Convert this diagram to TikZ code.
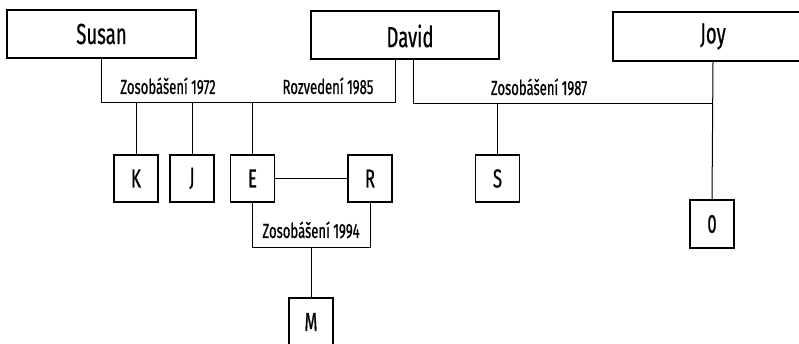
\documentclass[tikz,border=0pt]{standalone}
\usepackage{fontspec}
\setmainfont[FakeStretch=0.64,FakeBold=0.6]{Fira Sans}
\begin{document}
\begin{tikzpicture}[x=1pt,y=-1pt,
  lw/.style={line width=1.2pt},
  bigbox/.style={draw,lw,inner sep=0pt,minimum height=48pt,font=\fontsize{29}{29}\selectfont},
  namelbl/.style={inner sep=0pt,font=\fontsize{29}{29}\selectfont},
  kidbox/.style={draw,lw,inner sep=0pt,minimum width=44pt,minimum height=47pt,font=\fontsize{26}{26}\selectfont},
  lbl/.style={inner sep=0pt,font=\fontsize{20.5}{21}\selectfont},
  conn/.style={line width=1pt}]
\clip (0,0) rectangle (799,344);
\useasboundingbox (0,0) rectangle (799,344);
% parents
\node[bigbox,minimum width=189pt] (Susan) at (101.5,34) {Susan};
\node[bigbox,minimum width=188pt] (David) at (405,35) {};
\node[namelbl] (Davidtext) at (410,36) {David};
\node[bigbox,minimum width=200pt,minimum height=49pt] (Joy) at (713,36.5) {Joy};
% children
\node[kidbox] (K) at (136,178.5) {K};
\node[kidbox] (J) at (192,178.5) {J};
\node[kidbox] (E) at (252.5,178.5) {E};
\node[kidbox] (R) at (370,178.5) {R};
\node[kidbox] (S) at (497.5,178.5) {S};
\node[kidbox,minimum height=48pt] (O) at (712,224) {0};
\node[kidbox,minimum height=48pt] (M) at (311,322) {M};
% helper coordinates
\coordinate (sdy) at (0,103);
\coordinate (djy) at (0,104);
\coordinate (ery) at (0,248);
\coordinate (dL) at (395,59);
\coordinate (dR) at (413,59);
% Susan - David
\draw[conn] (Susan.south) -- (Susan.south |- sdy) -- (dL |- sdy) -- (dL);
\draw[conn] (K.north) -- (K.north |- sdy);
\draw[conn] (J.north) -- (J.north |- sdy);
\draw[conn] (E.north) -- (E.north |- sdy);
% David - Joy
\draw[conn] (dR) -- (dR |- djy) -- (Joy.south |- djy);
\draw[conn] (Joy.south) -- (O.north);
\draw[conn] (S.north) -- (S.north |- djy);
% E - R
\draw[conn] (E.east) -- (R.west);
\draw[conn] (E.south) -- (E.south |- ery) -- (R.south |- ery) -- (R.south);
\draw[conn] (M.north) -- (M.north |- ery);
% labels
\node[lbl] (l1) at (168,86) {Zosobášení 1972};
\node[lbl] (l2) at (328,86) {Rozvedení 1985};
\node[lbl] (l3) at (539,87) {Zosobášení 1987};
\node[lbl] (l4) at (311,230) {Zosobášení 1994};
\end{tikzpicture}
\end{document}
